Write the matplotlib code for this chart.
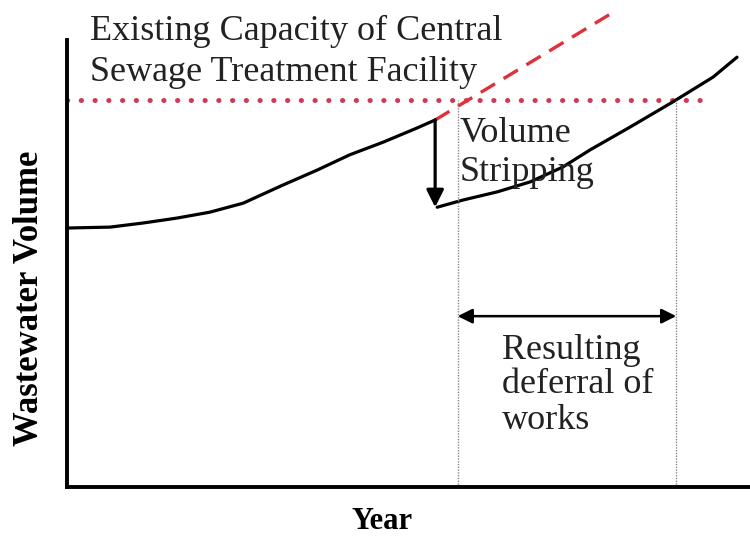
import matplotlib.pyplot as plt

# volume before stripping (year, volume)
yr_before = [0, 0.63, 1.11, 1.61, 2.09, 2.58, 3.16, 3.66, 4.14, 4.63, 5.12, 5.39]
vol_before = [57.3, 57.5, 58.4, 59.5, 60.8, 62.8, 66.8, 70.1, 73.5, 76.3, 79.4, 81.2]

# volume after stripping
yr_after = [5.42, 5.80, 6.30, 6.78, 7.26, 7.66, 8.24, 8.87, 9.46, 9.81]
vol_after = [61.9, 63.5, 65.3, 67.5, 70.8, 74.6, 79.6, 85.2, 90.7, 95.1]

# projected growth without stripping
yr_proj = [5.39, 7.95]
vol_proj = [81.2, 104.6]

capacity = 85.6
cap_end = 9.37
defer_start = 5.72
defer_end = 8.92
defer_y = 37.8

plt.rcParams['font.family'] = ['Liberation Serif', 'DejaVu Serif']

fig = plt.figure(figsize=(7.5, 5.36), dpi=100)
ax = fig.add_axes([67 / 750, 49 / 536, 683 / 750, 447 / 536])
ax.set_xlim(0, 10)
ax.set_ylim(0, 98.9)

for s in ['top', 'right']:
    ax.spines[s].set_visible(False)
for s in ['left', 'bottom']:
    ax.spines[s].set_linewidth(2.8)
    ax.spines[s].set_color('black')
ax.set_xticks([])
ax.set_yticks([])

# capacity line
ax.plot([0, cap_end], [capacity, capacity], color='#cc3b55', lw=3.6,
        linestyle=(0, (0.05, 2.7)), dash_capstyle='round', clip_on=False)

# projected (dashed red)
ax.plot(yr_proj, vol_proj, color='#e0303a', lw=2.4, linestyle=(0, (5, 3)),
        clip_on=False)

# curves
ax.plot(yr_before, vol_before, color='black', lw=2.3, solid_joinstyle='round',
        clip_on=False)
ax.plot(yr_after, vol_after, color='black', lw=2.3, solid_joinstyle='round',
        solid_capstyle='round', clip_on=False)

# stripping arrow
ax.annotate('', xy=(yr_before[-1], vol_after[0]), xytext=(yr_before[-1], vol_before[-1]),
            arrowprops=dict(arrowstyle='-|>', color='black', lw=2.3,
                            mutation_scale=26, shrinkA=0, shrinkB=0))

# deferral guides
for xv in [defer_start, defer_end]:
    ax.plot([xv, xv], [0, capacity], color='#888888', lw=1.0,
            linestyle=(0, (1, 1)))
ax.annotate('', xy=(defer_start, defer_y), xytext=(defer_end, defer_y),
            arrowprops=dict(arrowstyle='<|-|>', color='black', lw=1.8,
                            mutation_scale=22, shrinkA=0, shrinkB=0))

fs = 26
tc = '#222222'
ax.text(0.34, 100.7, 'Existing Capacity of Central', fontsize=fs, va='center',
        ha='left', color=tc, clip_on=False)
ax.text(0.34, 91.8, 'Sewage Treatment Facility', fontsize=fs, va='center',
        ha='left', color=tc, clip_on=False)
ax.text(5.75, 78.3, 'Volume', fontsize=fs, va='center', ha='left', color=tc)
ax.text(5.75, 69.5, 'Stripping', fontsize=fs, va='center', ha='left', color=tc)
ax.text(6.37, 30.3, 'Resulting', fontsize=fs, va='center', ha='left', color=tc)
ax.text(6.37, 22.6, 'deferral of', fontsize=fs, va='center', ha='left', color=tc)
ax.text(6.37, 14.8, 'works', fontsize=fs, va='center', ha='left', color=tc)

ax.text(4.61, -7.7, 'Year', fontsize=22, fontweight='bold', va='center',
        ha='center', clip_on=False)
ax.text(-0.55, 41.8, 'Wastewater Volume', fontsize=25, fontweight='bold',
        va='center', ha='center', rotation=90, clip_on=False)

fig.savefig('out.png', dpi=100)
